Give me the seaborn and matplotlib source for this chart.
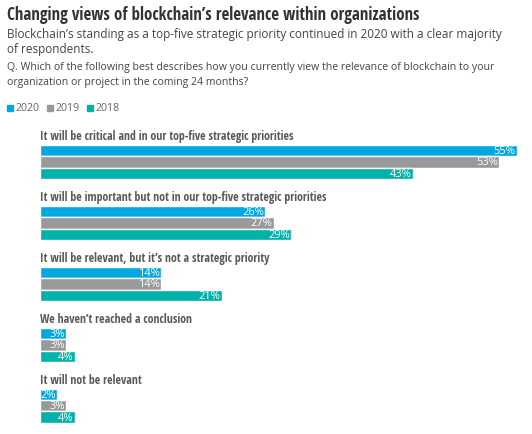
import matplotlib
matplotlib.use("Agg")
import matplotlib.pyplot as plt
import seaborn as sns
import pandas as pd

categories = [
    "It will be critical and in our top-five strategic priorities",
    "It will be important but not in our top-five strategic priorities",
    "It will be relevant, but it\u2019s not a strategic priority",
    "We haven\u2019t reached a conclusion",
    "It will not be relevant",
]
years = ["2020", "2019", "2018"]
v2020 = [55, 26, 14, 3, 2]
v2019 = [53, 27, 14, 3, 3]
v2018 = [43, 29, 21, 4, 4]

df = pd.DataFrame({
    "category": categories * 3,
    "year": ["2020"] * 5 + ["2019"] * 5 + ["2018"] * 5,
    "value": v2020 + v2019 + v2018,
})
palette = {"2020": "#00a8e1", "2019": "#999999", "2018": "#00b2a9"}

sns.set_theme(style="white")
plt.rcParams["font.family"] = ["Open Sans", "DejaVu Sans"]
COND = ["Open Sans Condensed", "Roboto Condensed", "Liberation Sans Narrow", "DejaVu Sans"]

W, H = 532, 435
fig = plt.figure(figsize=(W / 100, H / 100), dpi=100)
ax = fig.add_axes([40 / W, 1 - 430 / H, 480 / W, 310 / H])

sns.barplot(data=df, y="category", x="value", hue="year", hue_order=years,
            palette=palette, orient="h", width=0.557, ax=ax, legend=False,
            saturation=1)
ax.set_xlim(0, 55.4)
ax.set_ylim(4.38, -0.705)
ax.axis("off")

# white value labels at the end of each bar
for cont in ax.containers:
    for bar in cont:
        w = bar.get_width()
        ax.text(w - 0.15, bar.get_y() + bar.get_height() / 2, f"{w:.0f}%",
                ha="right", va="center", color="white", fontsize=8)

for i, c in enumerate(categories):
    ax.text(0, i - 0.43, c, ha="left", va="center", fontsize=8.6,
            fontweight="bold", color="#595959", family=COND)

fig.text(7 / W, 1 - 15 / H, "Changing views of blockchain\u2019s relevance within organizations",
         fontsize=12.2, fontweight="bold", color="#333333", va="center", family=COND)
fig.text(7 / W, 1 - 42 / H, "Blockchain\u2019s standing as a top-five strategic priority continued in 2020 with a clear majority\nof respondents.",
         fontsize=8.45, color="#444444", va="center", linespacing=1.2)
fig.text(7 / W, 1 - 75 / H, "Q. Which of the following best describes how you currently view the relevance of blockchain to your\norganization or project in the coming 24 months?",
         fontsize=7.55, color="#444444", va="center", linespacing=1.45)

x = 7
for y in years:
    fig.patches.append(plt.Rectangle((x / W, 1 - 111.5 / H), 6 / W, 6 / H,
                                     transform=fig.transFigure, color=palette[y]))
    fig.text((x + 9) / W, 1 - 108.5 / H, y, fontsize=7.7, color="#666666", va="center")
    x += 40

fig.savefig("out.png", dpi=100)
